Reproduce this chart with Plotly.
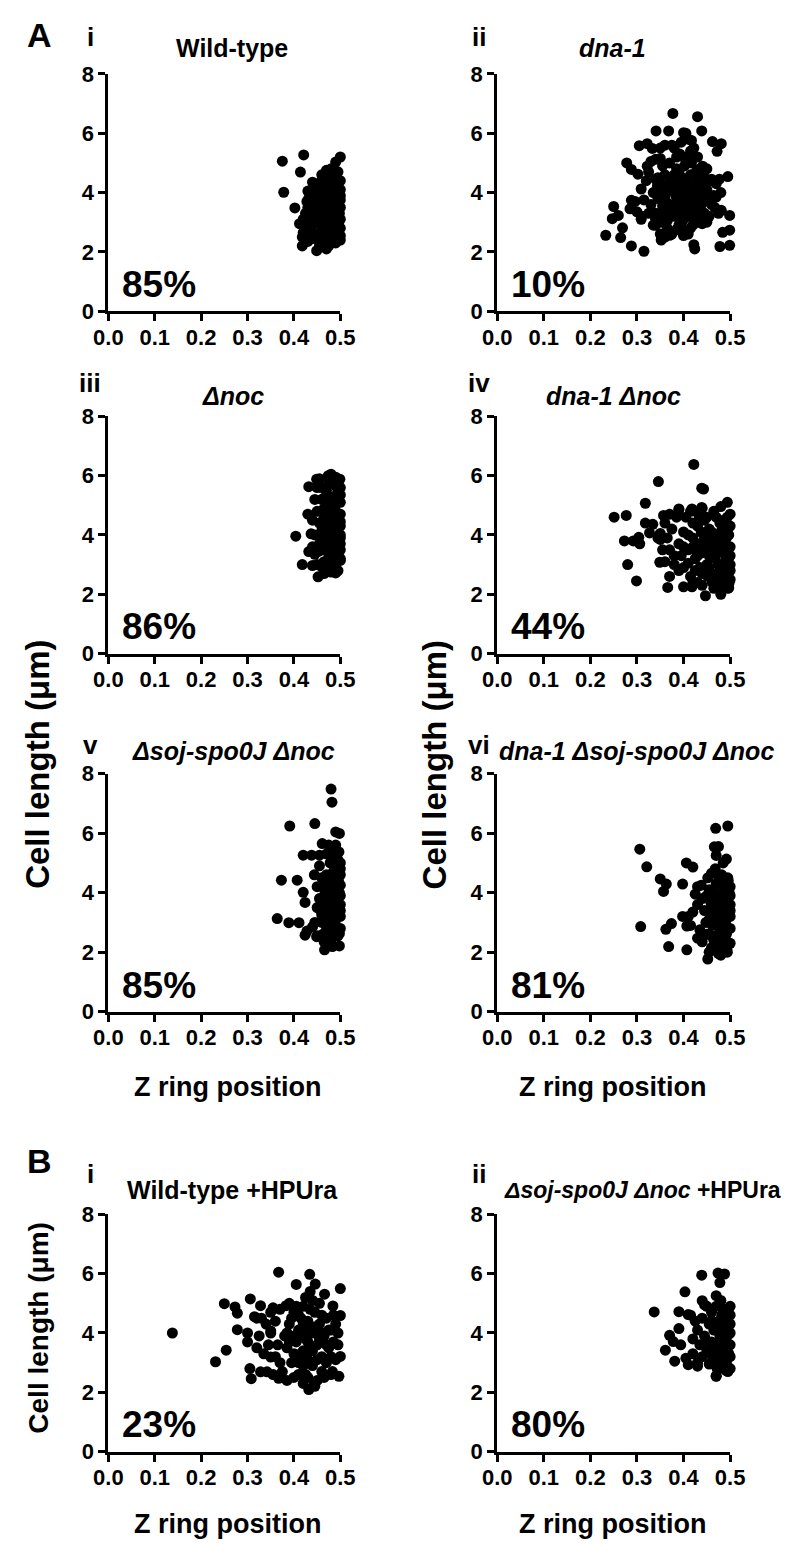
import plotly.graph_objects as go

FONT = "Liberation Sans"
W, H = 800, 1560

x_ticks = [0.0, 0.1, 0.2, 0.3, 0.4, 0.5]
x_ticktext = ["0.0", "0.1", "0.2", "0.3", "0.4", "0.5"]
y_ticks = [0, 2, 4, 6, 8]

# ---------------- data (Z ring position, cell length) ----------------
wt = [(0.375,5.06),(0.421,5.27),(0.414,4.69),(0.378,4.01),(0.402,3.48),(0.50,5.20),(0.49,5.03),
      (0.418,2.20),(0.418,2.50),(0.449,2.04),(0.470,2.10),(0.500,2.40),
      (0.412,2.95),(0.420,3.10),(0.425,3.30),(0.428,3.70),(0.430,4.05),(0.435,2.75),(0.438,2.45),(0.44,3.55),
      (0.442,3.9),(0.445,4.2),(0.447,2.6),(0.45,3.0),(0.452,3.35),(0.455,3.75),(0.457,4.35),(0.46,2.3),(0.46,2.85),
      (0.462,3.2),(0.465,3.6),(0.467,4.0),(0.468,4.5),(0.47,2.55),(0.472,3.05),(0.474,3.4),(0.476,3.85),(0.478,4.25),
      (0.48,4.6),(0.482,2.35),(0.484,2.75),(0.486,3.15),(0.488,3.5),(0.49,3.95),(0.492,4.4),(0.494,2.6),(0.496,3.0),
      (0.498,3.3),(0.5,3.75),(0.5,2.8),(0.5,4.1),(0.44,2.9),(0.45,3.45),(0.455,2.5),(0.46,4.1),(0.465,2.95),(0.47,3.3),
      (0.475,4.45),(0.48,2.9),(0.485,3.7),(0.49,2.5),(0.495,4.2),(0.43,3.5),(0.435,3.2),(0.44,4.35),(0.45,3.85),
      (0.455,2.2),(0.46,3.55),(0.465,2.4),(0.47,4.2),(0.475,2.65),(0.48,3.45),(0.485,4.05),(0.49,3.2),(0.495,3.55),
      (0.5,2.55),(0.42,2.65),(0.43,2.35),(0.445,2.45),(0.475,2.2),(0.49,2.3),(0.497,2.4),(0.46,4.6),(0.47,4.75),
      (0.48,4.8),(0.485,4.55),(0.495,4.7),(0.5,3.1),(0.5,3.5),(0.5,3.9),(0.5,4.4),(0.452,4.05),(0.448,3.1),
      (0.438,3.4),(0.432,3.8),(0.425,2.9),(0.445,3.7),(0.455,3.2),(0.465,3.85),(0.475,3.0),(0.485,3.35),
      (0.495,3.75),(0.46,2.6),(0.48,4.1),(0.49,4.6)]

dna1 = [(0.377,6.67),(0.43,6.56),(0.341,6.08),(0.368,6.08),(0.40,6.02),(0.439,6.08),(0.462,5.72),(0.481,5.65),
        (0.472,5.39),(0.305,5.58),(0.322,5.65),(0.333,5.49),(0.35,5.5),(0.417,5.76),(0.417,5.35),(0.278,5.0),
        (0.288,4.78),(0.302,4.62),(0.322,4.89),(0.34,5.12),(0.35,5.15),(0.441,4.89),(0.45,4.8),(0.495,4.54),
        (0.477,4.45),(0.46,4.45),(0.309,4.12),(0.34,4.45),(0.344,4.23),(0.25,3.53),(0.247,3.12),(0.26,3.23),
        (0.269,2.81),(0.233,2.56),(0.265,2.48),(0.288,2.2),(0.315,2.02),(0.288,3.74),(0.285,3.45),(0.309,3.1),
        (0.335,2.9),(0.352,2.4),(0.37,2.56),(0.397,2.66),(0.422,2.24),(0.424,2.1),(0.478,2.18),(0.499,2.22),
        (0.499,2.73),(0.484,2.66),(0.481,3.4),(0.499,3.23),(0.467,3.5),(0.47,3.85),
        (0.33,3.6),(0.335,4.0),(0.34,3.3),(0.345,3.8),(0.35,4.3),(0.352,3.0),(0.355,3.55),(0.36,4.6),(0.36,3.9),
        (0.365,2.8),(0.365,3.3),(0.37,4.1),(0.37,5.0),(0.372,3.6),(0.375,2.6),(0.378,4.4),(0.38,3.2),(0.38,5.5),
        (0.383,3.9),(0.385,4.8),(0.388,3.4),(0.39,4.2),(0.39,2.9),(0.392,5.3),(0.395,3.7),(0.397,4.5),(0.40,3.1),
        (0.40,4.0),(0.402,4.9),(0.405,3.5),(0.405,2.7),(0.408,4.3),(0.41,3.8),(0.41,5.1),(0.412,3.2),(0.415,4.6),
        (0.418,3.6),(0.42,4.1),(0.42,2.9),(0.422,5.5),(0.425,3.4),(0.428,4.4),(0.43,3.9),(0.432,3.1),(0.435,4.8),
        (0.438,3.6),(0.44,4.2),(0.445,3.3),(0.448,3.8),(0.45,3.0),(0.455,4.4),(0.46,3.6),(0.465,3.9),(0.47,4.3),
        (0.475,3.3),(0.48,4.0),(0.325,4.7),(0.33,5.05),(0.34,3.1),(0.355,4.9),(0.36,5.6),(0.375,5.6),(0.395,5.7),
        (0.41,5.8),(0.405,6.0),(0.34,2.9),(0.35,2.6),(0.36,2.5),(0.385,2.75),(0.40,2.55),(0.415,2.8),(0.43,3.0),
        (0.44,2.95),(0.455,3.2),(0.325,3.3),(0.315,3.75),(0.32,4.4),(0.30,3.35),(0.31,3.2),(0.296,3.7),
        (0.355,4.1),(0.362,3.7),(0.368,4.3),(0.374,3.4),(0.38,4.6),(0.386,3.6),(0.392,4.0),(0.398,3.3),(0.403,4.4),
        (0.407,3.9),(0.413,4.2),(0.417,5.0),(0.423,3.7),(0.427,4.7),(0.433,4.3),(0.437,3.4),(0.443,4.0),(0.39,4.7),
        (0.40,5.2),(0.385,5.2),(0.37,4.5),(0.36,3.4),(0.345,4.5),(0.35,3.3),(0.395,2.9),(0.41,2.6),(0.42,3.2),
        (0.365,3.05),(0.415,5.4),(0.43,5.2),(0.445,4.5),(0.45,4.1)]

noc = [(0.404,3.96),(0.432,5.63),(0.449,5.88),(0.474,6.0),(0.499,5.88),(0.43,4.7),(0.437,4.04),(0.432,3.44),
       (0.418,3.0),(0.44,2.97),(0.452,2.59),(0.49,2.72),(0.5,3.14),(0.464,5.21),
       (0.445,5.2),(0.45,4.8),(0.455,4.4),(0.46,3.9),(0.462,3.5),(0.465,3.1),(0.468,2.85),(0.47,5.5),(0.472,5.0),
       (0.474,4.6),(0.476,4.2),(0.478,3.8),(0.48,3.4),(0.482,3.0),(0.484,5.8),(0.486,5.3),(0.488,4.9),(0.49,4.5),
       (0.492,4.1),(0.494,3.7),(0.496,3.3),(0.498,5.6),(0.5,5.1),(0.5,4.7),(0.5,4.3),(0.5,3.9),(0.5,3.5),(0.5,3.2),
       (0.455,5.9),(0.46,5.6),(0.465,5.25),(0.47,4.75),(0.475,4.35),(0.48,3.95),(0.485,3.55),(0.49,3.15),(0.495,2.8),
       (0.48,2.75),(0.465,2.7),(0.445,3.35),(0.44,3.6),(0.445,4.0),(0.44,4.5),(0.45,3.0),(0.455,3.7),(0.46,4.15),
       (0.465,4.6),(0.47,5.0),(0.475,5.75),(0.48,6.05),(0.49,5.95),(0.495,5.45),(0.485,5.05),(0.475,3.25),(0.47,3.6),
       (0.48,4.6),(0.49,4.25),(0.495,3.9),(0.49,3.5),(0.485,2.95),(0.46,5.2),(0.45,5.6),(0.453,3.45),(0.458,2.95),
       (0.47,4.05),(0.5,4.0),(0.5,4.45),(0.5,5.35),(0.49,5.65),(0.485,4.4),
       (0.47,4.4),(0.475,3.9),(0.48,5.2),(0.485,4.2),(0.49,3.9),(0.495,4.7),(0.5,3.7),(0.5,5.6),(0.465,4.9),
       (0.46,4.8),(0.485,3.7)]

dna1_noc = [(0.251,4.6),(0.277,4.66),(0.273,3.8),(0.292,3.8),(0.304,3.92),(0.306,3.7),(0.28,3.0),(0.299,2.45),
            (0.318,5.07),(0.318,4.4),(0.334,4.36),(0.327,4.07),(0.346,5.8),(0.422,6.38),(0.439,5.58),(0.443,5.55),
            (0.35,3.85),(0.349,3.08),(0.366,2.23),(0.37,2.6),(0.40,2.25),(0.418,2.25),(0.447,1.95),(0.48,2.0),
            (0.497,2.22),(0.494,5.1),(0.48,4.96),(0.357,4.66),(0.39,4.88),(0.418,4.88),(0.439,4.93),
            (0.36,4.4),(0.365,3.9),(0.37,3.5),(0.375,4.2),(0.38,3.0),(0.385,4.6),(0.39,3.7),(0.395,3.3),(0.40,4.1),
            (0.40,2.9),(0.405,4.6),(0.41,3.5),(0.415,2.6),(0.42,3.9),(0.42,4.4),(0.425,3.2),(0.43,2.4),(0.43,3.7),
            (0.432,4.7),(0.435,2.9),(0.438,4.1),(0.44,3.4),(0.44,2.3),(0.445,4.5),(0.448,3.8),(0.45,3.0),(0.452,2.6),
            (0.455,4.2),(0.46,3.5),(0.462,2.4),(0.465,4.8),(0.468,3.2),(0.47,4.0),(0.472,2.7),(0.475,3.7),(0.478,4.4),
            (0.48,2.3),(0.482,3.0),(0.485,3.5),(0.488,4.2),(0.49,2.6),(0.492,3.9),(0.494,4.6),(0.496,3.2),(0.498,2.4),
            (0.5,3.6),(0.5,4.3),(0.5,2.8),(0.5,4.7),(0.5,3.0),(0.43,4.3),(0.435,3.5),(0.44,4.9),(0.45,3.6),(0.455,2.9),
            (0.46,4.1),(0.465,2.2),(0.47,3.4),(0.475,2.5),(0.48,4.1),(0.485,2.8),(0.49,3.3),(0.495,2.2),(0.37,4.7),
            (0.38,3.3),(0.39,2.8),(0.40,3.6),(0.41,4.0),(0.415,4.8),(0.42,2.4),(0.425,3.5),(0.355,3.5),(0.36,3.1),
            (0.345,3.9),(0.35,4.05),(0.39,4.85),(0.41,3.05),
            (0.445,3.9),(0.45,4.6),(0.455,3.3),(0.46,2.7),(0.465,3.8),(0.47,4.6),(0.475,3.0),(0.478,2.6),(0.482,3.8),
            (0.486,4.5),(0.49,3.6),(0.494,2.8),(0.497,4.0),(0.5,2.5),(0.5,3.3),(0.44,2.7),(0.435,4.6),(0.425,2.8),
            (0.43,3.3),(0.42,3.6)]

soj_noc = [(0.48,7.48),(0.482,7.04),(0.391,6.24),(0.445,6.32),(0.49,6.04),(0.498,5.99),(0.461,5.65),(0.497,5.37),
           (0.42,5.26),(0.438,5.26),(0.455,5.26),(0.373,4.42),(0.407,4.42),(0.42,4.01),(0.424,3.67),(0.364,3.13),
           (0.389,2.99),(0.411,2.99),(0.428,2.71),(0.424,2.57),(0.449,2.52),(0.466,2.08),(0.483,2.19),(0.498,2.21),
           (0.498,2.63),(0.444,4.6),
           (0.45,4.2),(0.455,3.8),(0.458,3.4),(0.46,3.0),(0.462,2.6),(0.465,4.5),(0.468,4.1),(0.47,3.7),(0.472,3.3),
           (0.474,2.9),(0.476,2.5),(0.478,5.0),(0.48,4.6),(0.482,4.2),(0.484,3.8),(0.486,3.4),(0.488,3.0),(0.49,2.6),
           (0.492,5.2),(0.494,4.8),(0.496,4.4),(0.498,4.0),(0.5,3.6),(0.5,3.2),(0.5,2.8),(0.5,4.6),(0.455,4.9),
           (0.46,4.5),(0.465,3.6),(0.47,2.85),(0.475,4.35),(0.48,3.55),(0.485,2.7),(0.49,4.1),(0.495,3.35),(0.46,3.25),
           (0.465,2.35),(0.475,3.95),(0.48,2.4),(0.485,5.1),(0.49,5.6),(0.495,2.55),(0.45,3.5),(0.445,3.0),(0.44,2.85),
           (0.45,2.55),(0.47,5.3),(0.475,5.6),(0.485,4.7),(0.49,3.75),(0.5,5.0),(0.5,4.25),(0.5,3.9),
           (0.47,4.6),(0.475,3.2),(0.48,4.2),(0.485,3.3),(0.49,4.5),(0.495,4.0),(0.5,3.4),(0.5,4.8),(0.465,3.9),
           (0.46,4.2),(0.485,3.9),(0.49,2.9),(0.47,2.5),(0.48,5.3),(0.495,5.1)]

dna1_soj_noc = [(0.306,5.46),(0.321,4.87),(0.308,2.86),(0.35,4.46),(0.363,4.29),(0.357,4.04),(0.362,2.77),
                (0.374,2.96),(0.368,2.19),(0.407,2.08),(0.398,4.29),(0.406,5.0),(0.42,4.86),(0.438,4.25),(0.398,3.2),
                (0.407,2.88),(0.43,2.47),(0.452,1.77),(0.48,1.9),(0.493,2.1),(0.469,6.16),(0.495,6.24),(0.466,5.54),
                (0.492,5.13),
                (0.44,3.8),(0.445,3.4),(0.448,3.0),(0.45,2.6),(0.452,4.5),(0.455,4.1),(0.458,3.7),(0.46,3.3),(0.462,2.9),
                (0.465,2.4),(0.468,4.8),(0.47,4.3),(0.472,3.9),(0.474,3.5),(0.476,3.1),(0.478,2.7),(0.48,2.2),(0.482,4.6),
                (0.484,4.2),(0.486,3.8),(0.488,3.4),(0.49,3.0),(0.492,2.6),(0.494,2.0),(0.496,4.4),(0.498,4.0),(0.5,3.6),
                (0.5,3.2),(0.5,2.8),(0.5,2.3),(0.5,3.9),(0.45,3.9),(0.455,3.1),(0.46,2.15),(0.465,3.55),(0.47,2.55),
                (0.475,4.55),(0.48,3.3),(0.485,2.45),(0.49,4.4),(0.495,3.7),(0.46,4.65),(0.47,5.25),(0.475,5.55),
                (0.485,5.0),(0.43,3.6),(0.43,4.2),(0.42,3.35),(0.41,3.2),(0.415,2.9),(0.425,3.95),(0.435,2.75),
                (0.44,2.35),(0.455,2.0),(0.475,1.95),(0.49,2.25),
                (0.47,3.2),(0.475,2.9),(0.48,3.7),(0.485,3.1),(0.49,3.6),(0.495,2.8),(0.5,3.4),(0.5,4.2),(0.465,4.0),
                (0.46,3.6),(0.485,4.0),(0.49,2.4),(0.47,3.6),(0.495,4.5),(0.455,2.6)]

wt_hpura = [(0.138,4.0),(0.231,3.03),(0.254,3.42),(0.25,4.99),(0.273,4.88),(0.278,4.67),(0.278,4.11),(0.30,4.0),
            (0.30,3.7),(0.306,5.15),(0.305,2.8),(0.308,2.46),(0.328,2.69),(0.342,2.69),(0.32,4.5),(0.35,4.07),
            (0.35,3.19),(0.367,2.47),(0.367,6.05),(0.405,5.64),(0.434,5.98),(0.446,5.65),(0.466,5.31),(0.50,5.5),
            (0.50,4.59),(0.50,3.21),(0.497,2.54),(0.483,2.7),(0.484,4.91),(0.432,2.09),(0.444,2.28),(0.35,4.7),
            (0.383,4.92),(0.328,4.92),
            (0.38,3.9),(0.385,3.5),(0.39,4.3),(0.395,3.0),(0.40,4.7),(0.405,3.7),(0.41,2.6),(0.41,4.1),(0.415,3.3),
            (0.42,4.9),(0.42,2.9),(0.425,3.8),(0.43,4.4),(0.43,2.5),(0.435,3.4),(0.44,4.0),(0.44,2.9),(0.445,4.7),
            (0.45,3.6),(0.45,2.4),(0.455,4.3),(0.46,3.2),(0.46,2.7),(0.465,3.9),(0.47,4.5),(0.47,3.0),(0.475,3.5),
            (0.48,4.1),(0.48,2.6),(0.485,3.7),(0.49,4.3),(0.49,3.1),(0.495,3.6),(0.495,4.0),(0.36,4.4),(0.365,3.6),
            (0.37,3.0),(0.37,4.8),(0.375,2.7),(0.345,3.6),(0.34,4.3),(0.335,3.3),(0.33,4.5),(0.325,3.9),(0.355,2.6),
            (0.36,3.2),(0.39,5.0),(0.40,2.5),(0.40,3.3),(0.415,4.5),(0.425,5.2),(0.435,5.4),(0.44,5.1),(0.455,5.0),
            (0.46,4.0),(0.43,3.1),(0.42,2.3),(0.445,2.2),(0.385,2.4),(0.35,4.0),(0.315,4.55),(0.32,3.5),(0.355,4.85),
            (0.385,4.0),
            (0.39,3.7),(0.395,4.5),(0.40,3.9),(0.405,4.9),(0.41,3.0),(0.415,3.9),(0.42,4.3),(0.425,2.6),(0.43,3.7),
            (0.435,4.8),(0.44,3.4),(0.445,4.2),(0.45,3.1),(0.455,3.8),(0.46,4.6),(0.465,2.5),(0.47,3.6),(0.475,4.1),
            (0.48,3.2),(0.485,4.6),(0.41,4.6),(0.42,3.4),(0.43,4.1)]

soj_noc_hpura = [(0.337,4.71),(0.361,3.42),(0.37,3.92),(0.381,3.05),(0.39,4.72),(0.403,5.39),(0.39,4.15),(0.394,3.6),
                 (0.405,3.15),(0.41,2.93),(0.43,2.88),(0.41,4.62),(0.439,5.95),(0.474,6.02),(0.488,5.99),(0.478,5.7),
                 (0.47,5.26),(0.47,2.54),(0.495,2.7),(0.44,5.09),(0.378,3.71),
                 (0.43,4.1),(0.435,3.6),(0.44,3.2),(0.44,4.5),(0.445,3.9),(0.45,3.4),(0.45,4.9),(0.455,2.95),(0.455,4.3),
                 (0.46,3.7),(0.46,4.7),(0.465,3.1),(0.465,4.1),(0.47,3.5),(0.47,4.9),(0.472,2.8),(0.475,4.4),(0.478,3.9),
                 (0.48,3.2),(0.48,5.1),(0.482,4.6),(0.485,3.6),(0.485,2.9),(0.488,4.2),(0.49,4.8),(0.49,3.4),(0.492,3.0),
                 (0.494,3.9),(0.495,4.5),(0.497,3.3),(0.5,4.0),(0.5,3.6),(0.5,4.9),(0.5,2.8),(0.5,4.3),(0.42,3.8),
                 (0.425,4.4),(0.42,3.3),(0.415,4.6),(0.43,3.0),(0.445,4.95),(0.46,3.25),(0.475,3.1),(0.48,4.0),
                 (0.49,2.75),(0.47,2.55),
                 (0.47,4.1),(0.475,3.7),(0.48,4.4),(0.485,3.3),(0.49,4.0),(0.495,3.6),(0.5,3.2),(0.5,4.6),(0.465,3.5),
                 (0.46,4.4),(0.485,4.8),(0.49,3.1),(0.47,3.3),(0.495,4.2),(0.455,3.7)]

percents = ["85%", "10%", "86%", "44%", "85%", "81%", "23%", "80%"]
numerals = ["i", "ii", "iii", "iv", "v", "vi", "i", "ii"]
titles = ["Wild-type", "<i>dna-1</i>", "<i>Δnoc</i>", "<i>dna-1 Δnoc</i>",
          "<i>Δsoj-spo0J Δnoc</i>", "<i>dna-1 Δsoj-spo0J Δnoc</i>",
          "Wild-type +HPUra", "<i>Δsoj-spo0J Δnoc</i> +HPUra"]
datasets = [wt, dna1, noc, dna1_noc, soj_noc, dna1_soj_noc, wt_hpura, soj_noc_hpura]

# ---------------- layout geometry (pixels) ----------------
col_x = [(97, 338), (501, 743)]
row_y = [(63, 304), (411, 652), (774, 1016), (1222, 1463)]
title_y = [37, 390, 751, 1197]
numeral_y = [25, 377, 745, 1181]
numeral_x = [78, 482]
title_cx = [225, 621, 227, 622, 227, 646, 226, None]
title_size = [25, 25, 25, 25, 25, 25, 25, 23]


def fx(p):
    return p / W


def fy(p):
    return 1 - p / H


fig = go.Figure()
annotations = []
axis_common = dict(showgrid=False, zeroline=False, showline=True, linecolor="black", linewidth=3,
                   ticks="outside", ticklen=7, tickwidth=3, tickcolor="black",
                   tickfont=dict(family=FONT, size=22, color="black", weight="bold"), fixedrange=True)

for i, pts in enumerate(datasets):
    r, c = divmod(i, 2)
    n = i + 1
    xs = [p[0] for p in pts]
    ys = [p[1] for p in pts]
    fig.add_trace(go.Scatter(x=xs, y=ys, mode="markers", xaxis=f"x{n}", yaxis=f"y{n}",
                             marker=dict(size=11, color="black", line=dict(width=0)),
                             cliponaxis=False, showlegend=False, hoverinfo="skip"))
    x0, x1 = col_x[c]
    y0, y1 = row_y[r]
    fig.layout[f"xaxis{n}"] = dict(axis_common, domain=[fx(x0), fx(x1)], range=[0, 0.5],
                                   tickvals=x_ticks, ticktext=x_ticktext, anchor=f"y{n}",
                                   ticklabelstandoff=-3)
    fig.layout[f"yaxis{n}"] = dict(axis_common, domain=[fy(y1), fy(y0)], range=[0, 8],
                                   tickvals=y_ticks, anchor=f"x{n}")
    # percentage label
    annotations.append(dict(text=percents[i], x=fx(x0 + 12), y=fy(y1 - 27), xanchor="left", yanchor="middle",
                            showarrow=False, xref="paper", yref="paper",
                            font=dict(family=FONT, size=37, color="black", weight="bold")))
    # roman numeral
    annotations.append(dict(text=numerals[i], x=fx(numeral_x[c]), y=fy(numeral_y[r]), xanchor="center",
                            yanchor="middle", showarrow=False, xref="paper", yref="paper",
                            font=dict(family=FONT, size=26, color="black", weight="bold")))
    # title
    if title_cx[i] is None:
        annotations.append(dict(text=titles[i], x=fx(506), y=fy(title_y[r]), xanchor="left", yanchor="middle",
                                showarrow=False, xref="paper", yref="paper",
                                font=dict(family=FONT, size=title_size[i], color="black", weight="bold")))
    else:
        annotations.append(dict(text=titles[i], x=fx(title_cx[i]), y=fy(title_y[r]), xanchor="center",
                                yanchor="middle", showarrow=False, xref="paper", yref="paper",
                                font=dict(family=FONT, size=title_size[i], color="black", weight="bold")))

# panel letters
for letter, (lx, ly) in zip(["A", "B"], [(25, 23), (25, 1168)]):
    annotations.append(dict(text=letter, x=fx(lx), y=fy(ly), xanchor="center", yanchor="middle",
                            showarrow=False, xref="paper", yref="paper",
                            font=dict(family=FONT, size=34, color="black", weight="bold")))

# axis titles
for (tx, ty) in [(221, 1093), (621, 1093), (221, 1537), (621, 1537)]:
    annotations.append(dict(text="Z ring position", x=fx(tx), y=fy(ty), xanchor="center", yanchor="middle",
                            showarrow=False, xref="paper", yref="paper",
                            font=dict(family=FONT, size=27, color="black", weight="bold")))
for (tx, ty, sz) in [(24, 765, 33), (436, 765, 33), (24, 1337, 28)]:
    annotations.append(dict(text="Cell length (μm)", x=fx(tx), y=fy(ty), xanchor="center", yanchor="middle",
                            textangle=-90, showarrow=False, xref="paper", yref="paper",
                            font=dict(family=FONT, size=sz, color="black", weight="bold")))

fig.update_layout(width=W, height=H, autosize=False, margin=dict(l=0, r=0, t=0, b=0),
                  paper_bgcolor="white", plot_bgcolor="white", annotations=annotations,
                  font=dict(family=FONT, color="black"))

fig.write_html("out.html")
